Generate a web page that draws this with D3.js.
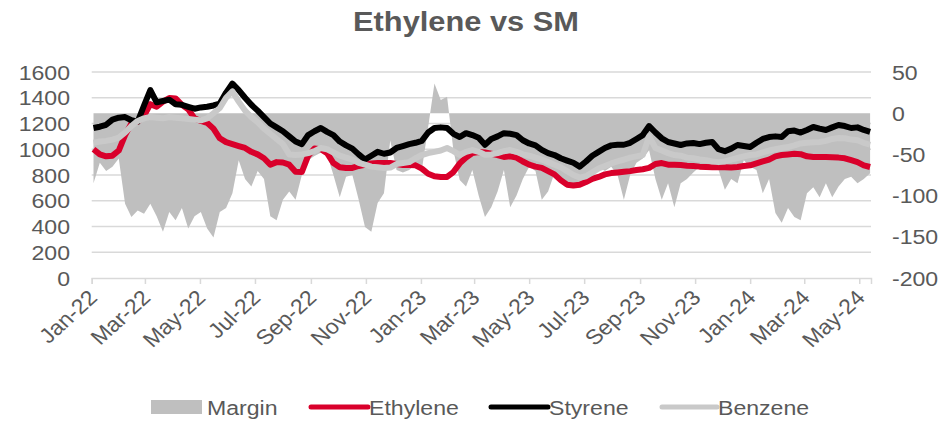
<!DOCTYPE html>
<html><head><meta charset="utf-8">
<script src="https://cdn.jsdelivr.net/npm/d3@7"></script>
<style>body{margin:0;background:#fff}svg{display:block}text{font-family:"Liberation Sans",Arial,sans-serif;fill:#595959}</style>
</head><body><div id="chart"></div>
<script>
// weekly observations starting Mon 3-Jan-2022
const startDate = "2022-01-03";
const stepDays = 7;
const tickLabels = ["Jan-22","Mar-22","May-22","Jul-22","Sep-22","Nov-22","Jan-23","Mar-23","May-23","Jul-23","Sep-23","Nov-23","Jan-24","Mar-24","May-24"];
const leftTicks = [0,200,400,600,800,1000,1200,1400,1600];
const rightTicks = [50,0,-50,-100,-150,-200];
const seriesNames = ["Margin","Ethylene","Styrene","Benzene"];

const styrene = [1165,1175,1190,1230,1245,1250,1225,1215,1340,1460,1365,1375,1385,1350,1345,1330,1315,1325,1330,1340,
1355,1440,1510,1460,1400,1345,1300,1250,1200,1170,1140,1100,1060,1040,1110,1140,1165,1135,1110,1060,
1030,1005,960,920,950,980,965,975,1010,1025,1040,1050,1065,1130,1165,1170,1165,1120,1095,1125,
1110,1090,1035,1080,1100,1125,1120,1110,1070,1045,1030,995,970,955,930,912,895,865,905,950,
980,1010,1030,1035,1035,1050,1080,1110,1180,1130,1085,1056,1045,1033,1045,1049,1040,1050,1056,1000,
985,1005,1033,1025,1017,1050,1080,1095,1100,1095,1140,1145,1130,1150,1173,1160,1150,1170,1188,1180,
1165,1170,1150,1135];

const ethylene = [1000,960,945,950,990,1110,1200,1215,1260,1350,1330,1370,1398,1395,1345,1310,1240,1220,1205,1160,
1085,1055,1040,1025,1010,980,960,930,880,900,897,880,825,823,950,1005,1000,970,893,860,
854,855,870,880,890,893,893,893,885,878,878,875,850,810,790,785,785,823,890,935,
971,979,975,965,955,940,945,935,905,880,865,855,830,805,760,725,718,725,745,770,
785,805,815,820,825,830,839,845,855,885,893,880,880,878,872,870,865,862,860,862,
860,858,862,870,875,890,905,920,945,955,960,965,962,945,940,940,940,938,935,930,
915,900,875,862];

const benzene = [1050,1060,1065,1075,1090,1130,1180,1220,1240,1250,1245,1240,1250,1245,1240,1235,1230,1225,1240,1280,
1320,1400,1450,1370,1300,1250,1210,1160,1120,1080,1040,960,955,960,970,985,1010,1000,975,950,
935,920,895,880,865,860,855,858,885,893,900,930,955,970,980,990,1010,985,955,980,
994,980,958,960,970,985,994,980,960,950,935,920,900,880,860,830,800,780,790,820,
850,870,890,905,920,935,945,955,1100,1010,990,970,955,950,935,930,920,915,905,900,
905,920,932,945,955,960,975,990,1000,1010,1017,1030,1045,1050,1055,1056,1065,1080,1087,1085,
1075,1070,1050,1035];

const margin = [-85,-60,-70,-65,-55,-110,-126,-118,-122,-110,-125,-144,-120,-130,-115,-140,-125,-120,-140,-151,
-120,-115,-97,-57,-80,-89,-70,-80,-125,-130,-105,-95,-105,-75,-57,-52,-48,-50,-75,-102,
-77,-75,-105,-138,-144,-109,-97,-33,-69,-72,-69,-62,-69,-17,36,16,20,-45,-81,-89,
-69,-100,-126,-114,-95,-69,-114,-100,-80,-65,-70,-105,-95,-73,-81,-85,-86,-87,-82,-80,
-65,-70,-65,-75,-105,-75,-60,-55,-45,-80,-105,-85,-114,-85,-80,-72,-65,-66,-68,-69,
-93,-80,-85,-57,-65,-69,-97,-80,-121,-133,-115,-126,-130,-97,-90,-102,-85,-102,-89,-80,
-77,-85,-80,-73];

const W = 950, H = 421;
const SX = 1.1; // horizontal text stretch seen in the reference
const svg = d3.select("#chart").append("svg").attr("width", W).attr("height", H);

const t0 = d3.timeParse("%Y-%m-%d")(startDate);
const dates = styrene.map((_, i) => d3.timeDay.offset(t0, i * stepDays));

const x = d3.scaleTime().domain([new Date(2022,0,1), new Date(2024,4,14)]).range([91.7, 871]);
const yL = d3.scaleLinear().domain([0,1600]).range([278,72]);
const yR = d3.scaleLinear().domain([-200,50]).range([278,72]);

// title
svg.append("text").attr("transform", `translate(466,31) scale(${SX},1)`).attr("text-anchor","middle")
  .style("font-size","28px").style("font-weight","bold").text("Ethylene vs SM");

// gridlines
svg.append("g").selectAll("line").data(leftTicks.filter(d => d > 0)).join("line")
  .attr("x1", 91.7).attr("x2", 871).attr("y1", d => yL(d)).attr("y2", d => yL(d))
  .attr("stroke", "#d9d9d9").attr("stroke-width", 1.5);

// margin area
const area = d3.area().x((d, i) => x(dates[i])).y0(yR(0)).y1(d => yR(d));
svg.append("path").datum(margin).attr("d", area).attr("fill", "#bfbfbf");

// x axis
const monthTicks = tickLabels.map(s => d3.timeParse("%b-%y")(s));
const xAxis = d3.axisBottom(x).tickValues(monthTicks).tickSize(6).tickFormat("");
const gx = svg.append("g").attr("transform", `translate(0,${yL(0)})`).call(xAxis);
gx.select(".domain").attr("stroke", "#d9d9d9").attr("stroke-width", 1.5);
gx.selectAll(".tick line").attr("stroke", "#d9d9d9").attr("stroke-width", 1.5);

// lines
const line = d3.line().x((d, i) => x(dates[i])).y(d => yL(d));
svg.append("path").datum(ethylene).attr("d", line).attr("fill","none").attr("stroke","#d9002b").attr("stroke-width",6).attr("stroke-linejoin","round");
svg.append("path").datum(styrene).attr("d", line).attr("fill","none").attr("stroke","#000").attr("stroke-width",6).attr("stroke-linejoin","round");
svg.append("path").datum(benzene).attr("d", line).attr("fill","none").attr("stroke","#c9c9c9").attr("stroke-width",6).attr("stroke-linejoin","round");

// axis labels
svg.append("g").selectAll("text").data(leftTicks).join("text")
  .attr("transform", d => `translate(70,${yL(d)}) scale(${SX},1)`).attr("dy","0.36em").attr("text-anchor","end")
  .style("font-size","21px").text(d => d);
svg.append("g").selectAll("text").data(rightTicks).join("text")
  .attr("transform", d => `translate(892,${yR(d)}) scale(${SX},1)`).attr("dy","0.36em").attr("text-anchor","start")
  .style("font-size","21px").text(d => d);
svg.append("g").selectAll("text").data(tickLabels).join("text")
  .attr("transform", (d, i) => `translate(${x(monthTicks[i]) + 7},${299}) scale(${SX},1) rotate(-45)`)
  .attr("text-anchor","end").style("font-size","21px").text(d => d);

// legend
const lg = svg.append("g");
lg.append("rect").attr("x",151).attr("y",400).attr("width",51).attr("height",14).attr("fill","#bfbfbf");
const legendItems = [
  {name: seriesNames[1], color: "#d9002b", x1: 311, x2: 368},
  {name: seriesNames[2], color: "#000", x1: 491, x2: 548},
  {name: seriesNames[3], color: "#c9c9c9", x1: 662, x2: 717}
];
lg.append("text").attr("transform", `translate(207,415) scale(${SX},1)`).style("font-size","21px").text(seriesNames[0]);
legendItems.forEach(it => {
  lg.append("line").attr("x1", it.x1).attr("x2", it.x2).attr("y1", 407).attr("y2", 407)
    .attr("stroke", it.color).attr("stroke-width", 5).attr("stroke-linecap","round");
  lg.append("text").attr("transform", `translate(${it.x2 + 1},415) scale(${SX},1)`).style("font-size","21px").text(it.name);
});
</script></body></html>
